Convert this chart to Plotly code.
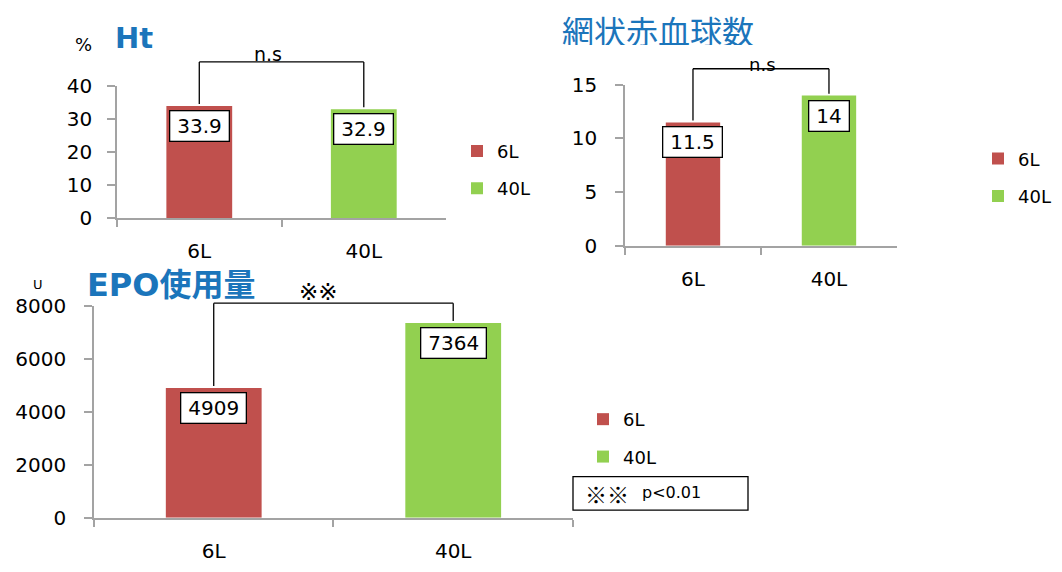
import plotly.graph_objects as go

# ---- data -------------------------------------------------------------
groups = ["6L", "40L"]
ht_values = [33.9, 32.9]          # Ht (%)
retic_values = [11.5, 14]         # 網状赤血球数
epo_values = [4909, 7364]         # EPO使用量 (U)

ht_ticks = [0, 10, 20, 30, 40]
retic_ticks = [0, 5, 10, 15]
epo_ticks = [0, 2000, 4000, 6000, 8000]

bar_colors = ["#C0504D", "#92D050"]
title_blue = "#1B75BB"
axis_gray = "#A3A3A3"
W, H = 1062, 572

NUM_FONT = "DejaVu Sans, Noto Sans"
CJK_FONT = "DejaVu Sans, Noto Sans CJK JP"

# ---- panel layout -----------------------------------------------------
panels = [
    dict(values=ht_values, ticks=ht_ticks, ax="", xdom=[0.1102, 0.4200], ydom=[0.6241, 0.8654],
         bracket_top=47.2, sig="n.s", sig_x=0.459, sig_gap=9, sig_font=19,
         legend="legend", ystandoff=11),
    dict(values=retic_values, ticks=retic_ticks, ax="2", xdom=[0.5885, 0.8446], ydom=[0.5734, 0.8671],
         bracket_top=16.5, sig="n.s", sig_x=0.504, sig_gap=5, sig_font=18,
         legend="legend2", ystandoff=14),
    dict(values=epo_values, ticks=epo_ticks, ax="3", xdom=[0.0885, 0.5395], ydom=[0.0769, 0.4633],
         bracket_top=8110, sig="※※", sig_x=0.468, sig_gap=12, sig_font=23,
         legend="legend3", ystandoff=14),
]

XR = [-0.5, 1.5]


def y_to_paper(v, p):
    lo, hi = p["ticks"][0], p["ticks"][-1]
    return p["ydom"][0] + (v - lo) / (hi - lo) * (p["ydom"][1] - p["ydom"][0])


def x_frac(i):
    return (i - XR[0]) / (XR[1] - XR[0])


def label_width(txt):
    # approximate rendered width of a 20px DejaVu number plus side padding
    return sum(6.4 if ch == "." else 12.7 for ch in txt) + 6


fig = go.Figure()
shapes, annotations = [], []

for p in panels:
    xa, ya = "x" + p["ax"], "y" + p["ax"]
    for i, g in enumerate(groups):
        fig.add_trace(go.Bar(
            x=[g], y=[p["values"][i]], name=g, xaxis=xa, yaxis=ya,
            marker=dict(color=bar_colors[i], line=dict(width=0)),
            width=0.4, legend=p["legend"], legendgroup=p["legend"] + g,
            hoverinfo="skip",
        ))
        # value box on each bar
        txt = str(p["values"][i])
        annotations.append(dict(
            xref=xa, yref=ya, x=g, y=p["values"][i], yanchor="top", yshift=-4,
            text=txt, showarrow=False, width=label_width(txt), height=21,
            font=dict(family=NUM_FONT, size=20, color="#000"),
            bgcolor="white", bordercolor="#000", borderwidth=1.3, borderpad=4,
        ))

    # significance bracket
    top = y_to_paper(p["bracket_top"], p)
    dref = xa + " domain"
    for i in range(2):
        foot = y_to_paper(p["values"][i], p) + 2 / H
        shapes.append(dict(type="line", xref=dref, yref="paper",
                           x0=x_frac(i), x1=x_frac(i), y0=foot, y1=top,
                           line=dict(color="#000", width=1.3)))
    shapes.append(dict(type="line", xref=dref, yref="paper",
                       x0=x_frac(0), x1=x_frac(1), y0=top, y1=top,
                       line=dict(color="#000", width=1.3)))
    annotations.append(dict(
        xref=dref, yref="paper", x=p["sig_x"], y=top + p["sig_gap"] / H, yanchor="middle",
        text=p["sig"], showarrow=False, height=p["sig_font"] - 4, borderpad=0,
        font=dict(family=CJK_FONT if p["sig"] != "n.s" else NUM_FONT, size=p["sig_font"], color="#000"),
    ))

    axis_common = dict(showline=True, linecolor=axis_gray, linewidth=1.5, showgrid=False,
                       zeroline=False, ticks="outside", tickcolor=axis_gray, tickwidth=1.5)
    fig.update_layout({
        "xaxis" + p["ax"]: dict(domain=p["xdom"], anchor=ya, type="category",
                                categoryorder="array", categoryarray=groups, range=XR,
                                tickson="boundaries", ticklen=7, ticklabelstandoff=14,
                                tickfont=dict(family=NUM_FONT, size=20, color="#000"),
                                **axis_common),
        "yaxis" + p["ax"]: dict(domain=p["ydom"], anchor=xa,
                                range=[p["ticks"][0], p["ticks"][-1]],
                                tickmode="array", tickvals=p["ticks"], ticklen=8,
                                ticklabelstandoff=p["ystandoff"],
                                tickfont=dict(family=NUM_FONT, size=20, color="#000"),
                                **axis_common),
    })

# ---- titles and units -------------------------------------------------
annotations += [
    dict(xref="paper", yref="paper", x=113 / W, y=1 - 27 / H, xanchor="left", yanchor="middle",
         text="<b>Ht</b>", showarrow=False,
         font=dict(family=NUM_FONT, size=29, color=title_blue)),
    dict(xref="paper", yref="paper", x=561 / W, y=1 - 18.5 / H, xanchor="left", yanchor="middle",
         text="網状赤血球数", showarrow=False, height=30, borderpad=0,
         font=dict(family="Noto Sans CJK JP", size=32, color=title_blue)),
    dict(xref="paper", yref="paper", x=85 / W, y=1 - 285 / H, xanchor="left", yanchor="middle",
         text="<b>EPO使用量</b>", showarrow=False,
         font=dict(family=CJK_FONT, size=32, color=title_blue)),
    dict(xref="paper", yref="paper", x=83 / W, y=1 - 34 / H, xanchor="center", yanchor="middle",
         text="%", showarrow=False, font=dict(family=NUM_FONT, size=18, color="#000")),
    dict(xref="paper", yref="paper", x=38 / W, y=1 - 284 / H, xanchor="center", yanchor="middle",
         text="U", showarrow=False, font=dict(family=NUM_FONT, size=13, color="#000")),
    # p-value note
    dict(xref="paper", yref="paper", x=583 / W, y=1 - 502 / H, xanchor="left", yanchor="middle",
         text="※※", showarrow=False, font=dict(family="Noto Sans CJK JP", size=22, color="#000")),
    dict(xref="paper", yref="paper", x=640 / W, y=1 - 502 / H, xanchor="left", yanchor="middle",
         text="p<0.01", showarrow=False, font=dict(family=NUM_FONT, size=16, color="#000")),
]
shapes.append(dict(type="rect", xref="paper", yref="paper",
                   x0=573 / W, x1=748 / W, y0=1 - 520 / H, y1=1 - 485 / H,
                   line=dict(color="#000", width=1.3)))

legend_style = dict(xanchor="left", yanchor="top", bgcolor="rgba(0,0,0,0)",
                    font=dict(family=NUM_FONT, size=18, color="#000"),
                    tracegroupgap=11, traceorder="grouped")

fig.update_layout(
    width=W, height=H, autosize=False,
    margin=dict(l=0, r=0, t=0, b=0),
    paper_bgcolor="white", plot_bgcolor="white",
    barmode="overlay", showlegend=True,
    legend=dict(x=457 / W, y=1 - 126 / H, **legend_style),
    legend2=dict(x=978 / W, y=1 - 134 / H, **legend_style),
    legend3=dict(x=583 / W, y=1 - 406 / H, **legend_style),
    shapes=shapes, annotations=annotations,
)

fig.write_html("out.html")
